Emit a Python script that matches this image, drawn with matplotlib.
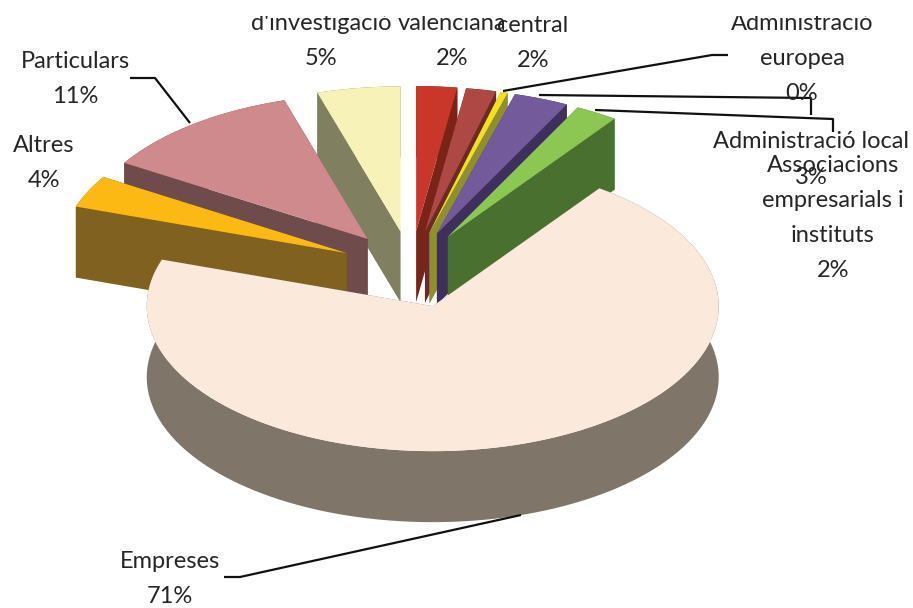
#! /usr/bin/env python
# -*- coding: utf-8 -*-

import numpy as np
import matplotlib
matplotlib.use("Agg")
import matplotlib.pyplot as plt
from matplotlib.patches import Polygon, Rectangle

plt.rcParams['font.family'] = ['Lato', 'DejaVu Sans']

# shares clockwise from 12 o'clock
categories = ["valenciana", "central", "europea", "local", "associacions",
              "empreses", "altres", "particulars", "investigacio"]
values = [2.3, 1.7, 0.4, 3.1, 2.4, 70.3, 3.6, 11.5, 4.7]

top_colors = ['#C9362A', '#AD4845', '#F5E020', '#735A9A', '#8CC653',
              '#FBE9DC', '#FDB913', '#CE8A8D', '#F7F2B8']
side_colors = ['#7A2316', '#6B2A28', '#8F8F30', '#3F2F5C', '#4A7030',
               '#807569', '#80611F', '#6F4B4B', '#808060']

# back slices first, big slice last so it covers the others
draw_order = [0, 1, 2, 3, 4, 8, 7, 6, 5]

label_texts = ["d'investigació\n5%", "valenciana\n2%", "central\n2%",
               "Administració\neuropea\n0%", "Administració local\n3%",
               "Associacions\nempresarials i\ninstituts\n2%",
               "Particulars\n11%", "Altres\n4%", "Empreses\n71%"]
label_x = [321, 452, 533, 802, 811, 833, 75, 44, 170]
label_y = [23, 23, 25, 23, 142, 165, 61, 145, 561]

leader_x = [[503, 712, 728], [539, 811, 811], [595, 833, 833],
            [130, 155, 190], [224, 240, 521]]
leader_y = [[91, 55, 55], [95, 98, 115], [110, 119, 132],
            [78, 78, 123], [577, 577, 515]]

CX, CY = 411, 269.5
RX, RY = 286, 145
EX, EY = 71, 38.5
DEPTH = 71
LINE_H = 35.3
TEXT_COL = '#262626'


def slice_polys(start, end):
    mid = (start + end) / 2
    x0 = CX + EX * np.sin(mid)
    y0 = CY - EY * np.cos(mid)
    t = np.linspace(start, end, 120)
    ax_ = x0 + RX * np.sin(t)
    ay_ = y0 - RY * np.cos(t)
    return x0, y0, ax_, ay_


fig = plt.figure(figsize=(9.13, 6.08), dpi=100)
ax = fig.add_axes([0, 0, 1, 1])
ax.set_xlim(0, 913)
ax.set_ylim(608, 0)
ax.axis('off')

edges = np.cumsum([0] + values) / sum(values) * 2 * np.pi

for z, i in enumerate(draw_order):
    x0, y0, xs, ys = slice_polys(edges[i], edges[i + 1])
    # walls: outer arc and the two cut faces
    arc = np.column_stack([np.r_[xs, xs[::-1]], np.r_[ys, ys[::-1] + DEPTH]])
    ax.add_patch(Polygon(arc, fc=side_colors[i], ec='none', zorder=z + 1))
    for xe, ye in [(xs[0], ys[0]), (xs[-1], ys[-1])]:
        wall = [(x0, y0), (xe, ye), (xe, ye + DEPTH), (x0, y0 + DEPTH)]
        ax.add_patch(Polygon(wall, fc=side_colors[i], ec='none', zorder=z + 1))
    top = np.column_stack([np.r_[x0, xs], np.r_[y0, ys]])
    ax.add_patch(Polygon(top, fc=top_colors[i], ec='none', zorder=z + 1))

for lx, ly in zip(leader_x, leader_y):
    ax.plot(lx, ly, color='#111111', lw=1.6, zorder=20, solid_capstyle='butt')

for txt, x, y in zip(label_texts, label_x, label_y):
    for n, line in enumerate(txt.split("\n")):
        ax.text(x, y + n * LINE_H, line, ha='center', va='center',
                fontsize=17, color=TEXT_COL, zorder=21)

# the picture is cropped through the first text row
ax.add_patch(Rectangle((0, 0), 913, 16, fc='white', ec='none', zorder=30))

fig.savefig('out.png', dpi=100)
